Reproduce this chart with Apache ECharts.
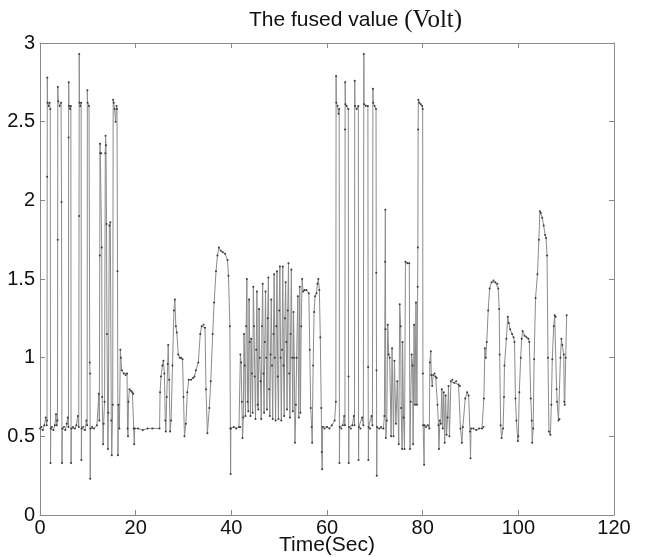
<!DOCTYPE html>
<html>
<head>
<meta charset="utf-8">
<title>The fused value</title>
<script src="https://cdn.jsdelivr.net/npm/echarts@6.0.0/dist/echarts.min.js"></script>
<style>
  html, body { margin: 0; padding: 0; background: #fff; }
  #main { width: 645px; height: 557px; }
</style>
</head>
<body>
<div id="main"></div>
<script>
// tick labels
var xTicks = [0, 20, 40, 60, 80, 100, 120];
var yTicks = [0, 0.5, 1, 1.5, 2, 2.5, 3];

// [time (s), volt], one array per stretch of the trace
var pulsesFirst = [
  [0,0.55],[0.3,0.56],[0.6,0.54],[0.9,0.57],[1.2,0.62],[1.4,0.57],[1.47,0.6],[1.5,2.15],[1.53,2.78],[1.58,2.62],
  [1.8,2.6],[2.0,2.62],[2.15,2.58],[2.2,0.33],[2.25,0.55],[2.5,0.56],[2.8,0.54],[3.1,0.57],[3.35,0.64],[3.5,0.57],
  [3.65,0.6],[3.7,1.75],[3.72,2.72],[3.8,2.63],[4.1,2.6],[4.4,2.62],[4.5,1.99],[4.6,0.33],[4.65,0.55],[5.0,0.56],
  [5.3,0.54],[5.6,0.58],[5.8,0.62],[5.95,0.56],[5.98,2.4],[6.0,2.75],[6.05,2.6],[6.3,2.58],[6.45,2.6],[6.5,0.33],
  [6.55,0.55],[6.9,0.56],[7.3,0.55],[7.6,0.57],[7.9,0.63],[8.1,0.56],[8.16,1.9],[8.2,2.93],[8.25,2.62],[8.4,2.6],
  [8.6,2.62],[8.65,0.35],[8.7,0.55],[9.0,0.56],[9.4,0.54],[9.7,0.6],[9.85,0.57],[9.9,2.7],[9.95,2.62],[10.25,2.6],
  [10.4,0.97],[10.45,0.9],[10.5,0.23],[10.55,0.55]
];
var decayFirst = [
  [10.9,0.56],[11.3,0.55],[11.9,0.57],[12.3,0.77],[12.4,0.6],[12.5,1.65],[12.55,2.36],[12.6,2.3],[12.8,2.3],[12.9,1.7],
  [13.0,0.75],[13.2,0.45],[13.3,0.58],[13.5,0.72],[13.65,2.3],[13.7,2.41],[13.8,2.35],[13.9,1.85],[14.0,1.15],[14.2,0.42],
  [14.3,0.65],[14.5,1.84],[14.7,1.86],[14.9,0.6],[15.0,0.38],[15.2,0.7],[15.3,2.64],[15.4,2.62],[15.6,2.58],[15.8,2.5],
  [16.0,2.6],[16.1,2.58],[16.2,1.55],[16.3,0.38],[16.4,0.7],[16.6,0.55],[16.8,1.05],[16.9,1.0],[17.1,0.92],[17.5,0.9],
  [17.9,0.89],[18.2,0.9],[18.3,0.55],[18.4,0.5],[18.5,0.72],[18.7,0.8],[19.0,0.79],[19.3,0.78],[19.5,0.77],[19.6,0.55],
  [19.7,0.45],[19.8,0.55]
];
var rampsMiddle = [
  [20.5,0.55],[21.5,0.54],[22.5,0.55],[23.5,0.55],[25.0,0.55],[25.1,0.78],[25.3,0.88],[25.6,0.95],[25.8,0.98],[26.0,0.9],
  [26.2,0.6],[26.3,0.53],[26.5,0.75],[26.7,0.96],[26.8,1.08],[27.0,0.86],[27.2,0.53],[27.4,0.6],[27.7,0.95],[28.0,1.3],
  [28.2,1.37],[28.4,1.2],[28.6,1.16],[28.9,1.02],[29.2,1.0],[29.5,1.0],[29.8,0.99],[30.0,0.75],[30.2,0.5],[30.5,0.58],
  [30.8,0.78],[31.1,0.86],[31.6,0.86],[32.0,0.87],[32.3,0.88],[32.6,0.92],[33.1,0.97],[33.5,1.15],[33.8,1.2],[34.2,1.21],
  [34.5,1.19],[34.7,0.8],[35.0,0.52],[35.4,0.68],[35.7,0.85],[36.1,1.15],[36.4,1.35],[36.8,1.55],[37.1,1.65],[37.4,1.7],
  [37.8,1.68],[38.2,1.67],[38.7,1.66],[39.2,1.62],[39.4,1.52],[39.7,1.2],[39.8,0.55],[39.85,0.26],[39.9,0.55],[40.5,0.56],
  [41.0,0.55],[41.6,0.56]
];
var denseMiddle = [
  [41.85,0.56],[41.9,1.02],[42.05,0.97],[42.2,0.72],[42.35,0.49],[42.5,0.62],[42.65,1.15],[42.8,0.95],[42.95,0.63],[43.1,1.2],
  [43.25,1.5],[43.4,0.72],[43.55,0.66],[43.7,1.37],[43.85,1.1],[44.0,0.63],[44.15,1.12],[44.3,0.9],[44.45,0.65],[44.6,1.45],
  [44.75,1.2],[44.9,0.88],[45.05,0.61],[45.2,1.05],[45.35,1.42],[45.5,0.7],[45.65,0.67],[45.8,1.31],[45.95,1.0],[46.1,0.85],
  [46.25,0.61],[46.4,1.2],[46.55,1.47],[46.7,0.9],[46.85,0.65],[47.0,1.1],[47.15,1.42],[47.3,1.0],[47.45,0.67],[47.6,1.25],
  [47.75,1.51],[47.9,0.8],[48.05,0.63],[48.2,1.02],[48.35,1.37],[48.5,0.95],[48.65,0.61],[48.8,1.15],[48.95,1.53],[49.1,1.0],
  [49.25,0.6],[49.4,1.2],[49.55,1.55],[49.7,0.88],[49.85,0.61],[50.0,1.3],[50.15,1.58],[50.3,1.0],[50.45,0.6],[50.6,1.05],
  [50.75,1.58],[50.9,0.95],[51.05,0.63],[51.2,1.25],[51.35,1.48],[51.5,1.1],[51.65,0.67],[51.8,1.3],[51.95,1.6],[52.1,0.9],
  [52.25,0.62],[52.4,1.15],[52.55,1.56],[52.7,1.0],[52.85,0.66],[53.0,1.29],[53.15,1.0],[53.3,0.46],[53.5,0.7],[53.65,1.0],
  [53.9,1.39],[54.1,0.62],[54.3,1.45],[54.45,0.65],[54.6,1.2],[54.8,1.5]
];
var humpsMiddle = [
  [55.0,1.42],[55.3,1.43],[55.7,1.43],[56.2,1.41],[56.4,1.05],[56.6,0.68],[56.8,0.56],[56.9,0.46],[57.1,0.95],[57.3,1.29],
  [57.5,1.39],[57.8,1.41],[58.0,1.47],[58.2,1.5],[58.4,1.43],[58.6,1.13],[58.8,0.68],[58.9,0.4],[59.0,0.29],[59.1,0.56]
];
var pulsesSecond = [
  [59.5,0.55],[60.0,0.56],[60.5,0.55],[61.0,0.57],[61.6,0.6],[61.85,0.72],[61.9,2.79],[61.95,2.62],[62.2,2.6],[62.4,2.55],
  [62.55,2.58],[62.6,0.33],[62.65,0.56],[63.0,0.55],[63.3,0.57],[63.6,0.63],[63.75,0.57],[63.78,2.45],[63.8,2.75],[63.85,2.61],
  [64.1,2.6],[64.45,2.58],[64.5,0.88],[64.55,0.33],[64.6,0.56],[65.0,0.55],[65.3,0.57],[65.6,0.63],[65.75,0.57],[65.8,2.76],
  [65.85,2.6],[66.2,2.58],[66.55,2.6],[66.6,0.35],[66.65,0.56],[67.0,0.55],[67.35,0.62],[67.6,0.57],[67.7,2.93],[67.75,2.61],
  [68.1,2.6],[68.55,2.6],[68.6,0.94],[68.65,0.35],[68.7,0.56],[69.0,0.55],[69.3,0.63],[69.5,0.57],[69.6,2.71],[69.65,2.62],
  [69.95,2.6],[70.25,2.58],[70.3,1.54],[70.35,0.92],[70.4,0.25],[70.45,0.56],[70.9,0.55],[71.3,0.56],[71.8,0.55],[72.0,0.63],
  [72.15,1.61],[72.2,1.94],[72.25,1.18],[72.3,0.49]
];
var burstLate = [
  [72.5,0.6],[72.7,1.21],[72.9,1.02],[73.1,1.0],[73.4,0.5],[73.6,1.06],[73.9,0.5],[74.1,0.98],[74.4,0.58],[74.7,0.85],
  [75.0,0.45],[75.2,1.34],[75.4,1.2],[75.5,0.68],[75.7,0.42],[75.8,1.1],[76.0,0.62],[76.2,0.42],[76.4,1.61],[76.8,1.6],
  [77.2,1.6],[77.35,0.42],[77.5,0.72],[77.7,1.02],[77.9,0.95],[78.0,0.45],[78.2,1.21],[78.4,0.7],[78.6,1.35],[78.8,0.7],
  [78.95,1.45],[79.0,1.7],[79.05,2.45],[79.1,2.64],[79.3,2.62],[79.6,2.61],[79.9,2.6],[80.0,2.58]
];
var wobbleLate = [
  [80.05,0.9],[80.1,0.57],[80.3,0.32],[80.35,0.57],[80.7,0.56],[81.1,0.57],[81.4,0.55],[81.5,0.97],[81.7,1.04],[81.8,0.89],
  [82.0,0.82],[82.2,0.89],[82.5,0.9],[82.7,0.88],[82.9,0.87],[83.1,0.7],[83.3,0.57],[83.4,0.42],[83.6,0.6],[83.8,0.58],
  [84.0,0.8],[84.2,0.55],[84.4,0.78],[84.6,0.46],[84.8,0.76],[85.0,0.51],[85.2,0.62],[85.4,0.82],[85.6,0.5],[85.9,0.85],
  [86.2,0.86],[86.6,0.84],[87.0,0.85],[87.5,0.83],[87.8,0.82],[87.9,0.55],[88.2,0.46],[88.4,0.56],[88.9,0.74],[89.3,0.78],
  [89.6,0.76],[89.9,0.53],[90.0,0.36],[90.1,0.55],[90.6,0.55],[91.2,0.54],[91.8,0.55],[92.4,0.55],[92.7,0.56],[92.8,0.74],
  [93.0,1.06],[93.2,1.0],[93.4,1.1],[93.7,1.3],[94.0,1.44],[94.4,1.48],[94.8,1.49],[95.2,1.48],[95.6,1.47],[95.8,1.44],
  [96.0,1.31],[96.1,1.02],[96.3,0.57],[96.5,0.49],[96.8,0.55]
];
var tailLate = [
  [97.0,0.75],[97.1,0.95],[97.5,1.12],[97.8,1.26],[98.0,1.22],[98.3,1.18],[98.7,1.15],[99.0,1.13],[99.2,1.1],[99.4,0.74],
  [99.6,0.6],[99.9,0.47],[100.0,0.5],[100.2,0.78],[100.5,1.0],[100.7,1.12],[100.9,1.17],[101.3,1.14],[101.7,1.13],[102.1,1.12],
  [102.3,1.1],[102.6,0.74],[102.8,0.6],[102.9,0.46],[103.1,0.55],[103.3,0.99],[103.6,1.38],[104.0,1.53],[104.3,1.75],[104.5,1.93],
  [104.7,1.92],[105.0,1.89],[105.3,1.84],[105.6,1.78],[105.8,1.76],[106.0,1.65],[106.2,1.0],[106.4,0.53],[106.7,0.51],[106.9,0.7],
  [107.1,0.99],[107.4,1.2],[107.6,1.27],[107.8,1.26],[108.0,0.8],[108.1,0.72],[108.4,0.6],[108.6,0.61],[108.8,1.0],[109.0,1.12],
  [109.2,1.08],[109.5,1.02],[109.6,0.72],[109.7,0.7],[109.9,1.0],[110.1,1.27]
];

var trace = [].concat(pulsesFirst, decayFirst, rampsMiddle, denseMiddle, humpsMiddle,
  pulsesSecond, burstLate, wobbleLate, tailLate);

var chart = echarts.init(document.getElementById('main'), null, { renderer: 'canvas' });

var frame = '#8a8a8a';
var sans = 'Liberation Sans, Arial, sans-serif';

function frameAxis(extra) {
  var a = {
    type: 'value',
    axisLine: { show: true, onZero: false, lineStyle: { color: frame, width: 1 } },
    axisTick: { show: true, inside: true, length: 5, lineStyle: { color: frame } },
    splitLine: { show: false },
    axisLabel: { show: false }
  };
  for (var k in extra) a[k] = extra[k];
  return a;
}

var option = {
  animation: false,
  backgroundColor: '#fff',
  title: {
    text: '{a|The fused value }{b|(Volt)}',
    left: 244,
    top: 3,
    textStyle: {
      rich: {
        a: { fontFamily: sans, fontSize: 21, fontWeight: 'normal', color: '#111' },
        b: { fontFamily: 'Liberation Serif, Times New Roman, serif', fontSize: 25, fontWeight: 'normal', color: '#111' }
      }
    }
  },
  grid: { left: 40, right: 31, top: 43, bottom: 42, containLabel: false, outerBoundsMode: 'none' },
  xAxis: [
    frameAxis({
      min: 0, max: xTicks[xTicks.length - 1], interval: 20,
      position: 'bottom',
      name: 'Time(Sec)',
      nameLocation: 'middle',
      nameGap: 20,
      nameMoveOverlap: false,
      nameTextStyle: { fontFamily: sans, fontSize: 21, color: '#111', verticalAlign: 'top' },
      axisLabel: { show: true, margin: 3, fontFamily: sans, fontSize: 20, color: '#111' }
    }),
    frameAxis({ min: 0, max: 120, interval: 20, position: 'top' })
  ],
  yAxis: [
    frameAxis({
      min: 0, max: yTicks[yTicks.length - 1], interval: 0.5,
      position: 'left',
      axisLabel: { show: true, margin: 5, fontFamily: sans, fontSize: 20, color: '#111' }
    }),
    frameAxis({ min: 0, max: 3, interval: 0.5, position: 'right' })
  ],
  series: [{
    type: 'line',
    data: trace,
    xAxisIndex: 0,
    yAxisIndex: 0,
    silent: true,
    showSymbol: true,
    symbol: 'circle',
    symbolSize: 2,
    itemStyle: { color: '#3a3a3a' },
    lineStyle: { color: '#8c8c8c', width: 1 }
  }]
};

chart.setOption(option);
</script>
</body>
</html>
